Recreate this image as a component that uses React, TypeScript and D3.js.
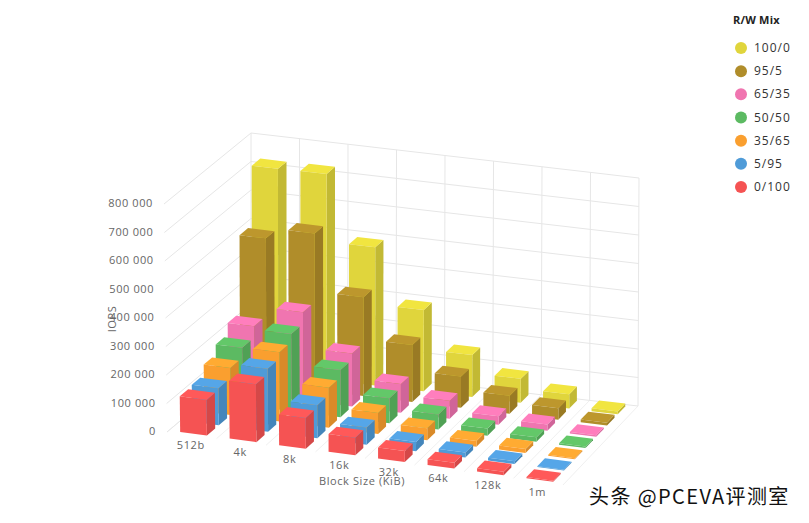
import React, { useEffect, useRef } from 'react';
import * as d3 from 'd3';

const blockSizes = ['512b', '4k', '8k', '16k', '32k', '64k', '128k', '1m'];
const mixes = ['100/0', '95/5', '65/35', '50/50', '35/65', '5/95', '0/100'];
const mixColors = ['#e0d53c', '#b08d2a', '#f075b0', '#5cba62', '#fa9f2f', '#4f9bd8', '#f55353'];

const iops100 = [720000, 722000, 485000, 285000, 147000, 84000, 50000, 10000];
const iops95 = [512000, 550000, 347000, 200000, 110000, 63000, 40000, 10000];
const iops65 = [240000, 310000, 186000, 100000, 63000, 30000, 22000, 5000];
const iops50 = [200000, 270000, 165000, 88000, 53000, 25000, 16000, 5000];
const iops35 = [165000, 242000, 140000, 74000, 42000, 20000, 14000, 4000];
const iops5 = [130000, 221000, 116000, 60000, 32000, 18000, 10000, 3000];
const iops0 = [125000, 203000, 108000, 62000, 38000, 20000, 12000, 4000];
const seriesValues = [iops100, iops95, iops65, iops50, iops35, iops5, iops0];

const yTicks = [0, 100000, 200000, 300000, 400000, 500000, 600000, 700000, 800000];
const width = 809;
const height = 523;
const axisFont = '"Open Sans", sans-serif';

// box corners on screen, floor and 800k level: back/front, left/right
const floorBL: [number, number] = [251, 361];
const floorBR: [number, number] = [638, 406];
const floorFL: [number, number] = [167, 432];
const floorFR: [number, number] = [563, 485];
const topBL: [number, number] = [251, 133];
const topBR: [number, number] = [639, 178];
const topFL: [number, number] = [164, 204];
const topFR: [number, number] = [565, 256];

const lerp = (a: [number, number], b: [number, number], t: number): [number, number] => [
  a[0] + (b[0] - a[0]) * t,
  a[1] + (b[1] - a[1]) * t,
];

const App: React.FC = () => {
  const svgRef = useRef<SVGSVGElement>(null);

  useEffect(() => {
    if (!svgRef.current) return;
    const svg = d3.select(svgRef.current);
    svg.selectAll('*').remove();

    const uScale = d3.scaleBand<string>().domain(blockSizes).range([0, 1]).paddingInner(0.46).paddingOuter(0.23);
    const vScale = d3.scaleBand<string>().domain(mixes).range([0, 1]).paddingInner(0.3).paddingOuter(0.15);
    const hScale = d3.scaleLinear().domain([0, 800000]).range([0, 1]);
    const intU = d3.scaleLinear().domain([0, blockSizes.length]).range([0, 1]);

    // u along categories, v from back to front, h up the wall
    const project = (u: number, v: number, h: number): [number, number] => {
      const floor = lerp(lerp(floorBL, floorBR, u), lerp(floorFL, floorFR, u), v);
      const top = lerp(lerp(topBL, topBR, u), lerp(topFL, topFR, u), v);
      return lerp(floor, top, h);
    };
    const poly = (pts: [number, number][]) => d3.line()(pts) + 'Z';

    const grid = svg.append('g').attr('fill', 'none').attr('stroke', '#e6e6e6').attr('stroke-width', 1);
    d3.range(blockSizes.length + 1).forEach((i) => {
      const u = intU(i);
      grid.append('path').attr('d', d3.line()([project(u, 0, 0), project(u, 0, 1)]));
      grid.append('path').attr('stroke', '#f0f0f0').attr('d', d3.line()([project(u, 0, 0), project(u, 1, 0)]));
    });
    yTicks.forEach((t) => {
      const h = hScale(t);
      grid.append('path').attr('d', d3.line()([project(0, 1, h), project(0, 0, h), project(1, 0, h)]));
    });

    // rows from back to front so the nearer bars cover the far ones
    mixes.forEach((mix, s) => {
      const color = mixColors[s];
      const side = d3.rgb(color).darker(0.4).toString();
      const cap = d3.rgb(color).brighter(0.2).toString();
      const g = svg.append('g').attr('class', 'series');
      blockSizes.forEach((size, c) => {
        const h = hScale(seriesValues[s][c]);
        const u0 = uScale(size) as number;
        const u1 = u0 + uScale.bandwidth();
        const v0 = vScale(mix) as number;
        const v1 = v0 + vScale.bandwidth();
        g.append('path')
          .attr('fill', side)
          .attr('d', poly([project(u1, v1, 0), project(u1, v0, 0), project(u1, v0, h), project(u1, v1, h)]));
        g.append('path')
          .attr('fill', cap)
          .attr('d', poly([project(u0, v1, h), project(u1, v1, h), project(u1, v0, h), project(u0, v0, h)]));
        g.append('path')
          .attr('fill', color)
          .attr('d', poly([project(u0, v1, 0), project(u1, v1, 0), project(u1, v1, h), project(u0, v1, h)]));
      });
    });

    const fmt = (n: number) => d3.format(',')(n).replace(/,/g, ' ');
    const label = (x: number, y: number, text: string, anchor: string) =>
      svg.append('text')
        .attr('x', x)
        .attr('y', y)
        .attr('text-anchor', anchor)
        .attr('font-family', axisFont)
        .attr('font-size', 11)
        .attr('letter-spacing', 0.6)
        .attr('fill', '#666666')
        .text(text);

    yTicks.forEach((t) => {
      const p = project(0, 1, hScale(t));
      label(p[0] - 11, p[1] + 3, fmt(t), 'end');
    });
    blockSizes.forEach((size, c) => {
      const p = project(intU(c + 0.5), 1, 0);
      label(p[0] - 1, p[1] + 14, size, 'middle');
    });
    label(362, 485, 'Block Size (KiB)', 'middle');
    label(0, 0, 'IOPS', 'middle').attr('transform', 'translate(116,319) rotate(-90)');

    const legend = svg.append('g');
    legend.append('text')
      .attr('x', 733)
      .attr('y', 24)
      .attr('font-family', axisFont)
      .attr('font-size', 11)
      .attr('font-weight', 700)
      .attr('letter-spacing', 0.2)
      .attr('fill', '#222222')
      .text('R/W Mix');
    const legendY = d3.scaleLinear().domain([0, mixes.length - 1]).range([48, 187]);
    mixes.forEach((mix, i) => {
      legend.append('circle').attr('cx', 741).attr('cy', legendY(i)).attr('r', 6).attr('fill', mixColors[i]);
      legend.append('text')
        .attr('x', 754)
        .attr('y', legendY(i) + 4)
        .attr('font-family', axisFont)
        .attr('font-size', 12)
        .attr('letter-spacing', 1)
        .attr('fill', '#333333')
        .text(mix);
    });

    svg.append('text')
      .attr('x', 589)
      .attr('y', 504)
      .attr('font-family', '"Noto Sans CJK SC", sans-serif')
      .attr('font-size', 20)
      .attr('letter-spacing', 1.4)
      .attr('fill', '#111111')
      .attr('stroke', '#ffffff')
      .attr('stroke-width', 3)
      .attr('paint-order', 'stroke')
      .text('头条 @PCEVA评测室');
  }, []);

  return (
    <svg
      ref={svgRef}
      width={width}
      height={height}
      viewBox={`0 0 ${width} ${height}`}
      style={{ position: 'absolute', left: 0, top: 0, background: '#ffffff' }}
    />
  );
};

export default App;
